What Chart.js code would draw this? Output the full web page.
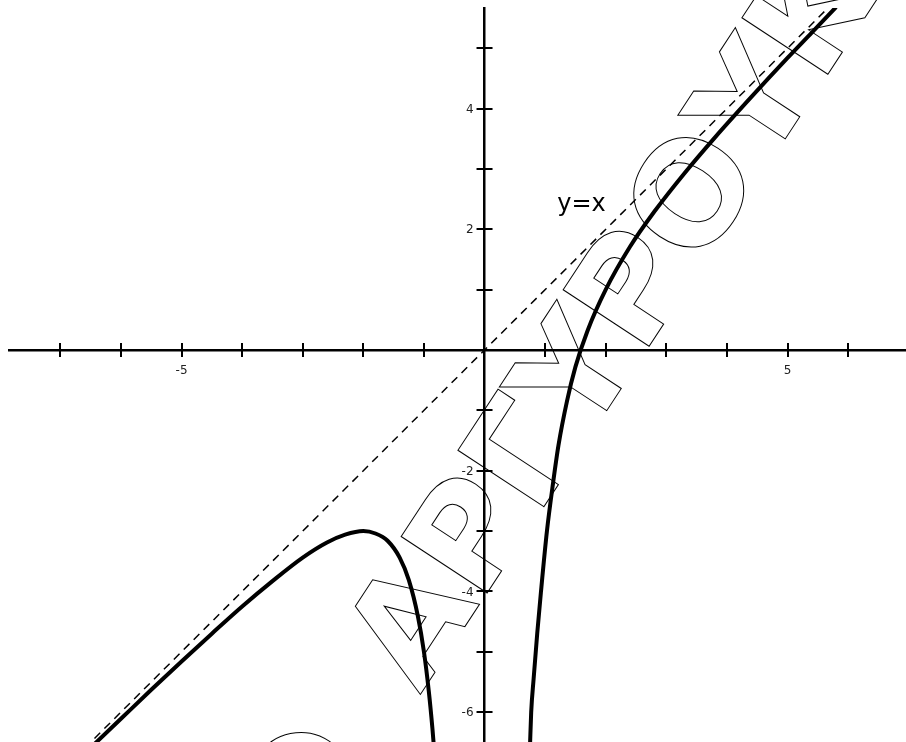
<!DOCTYPE html>
<html>
<head>
<meta charset="utf-8">
<script src="https://cdn.jsdelivr.net/npm/chart.js@4/dist/chart.umd.min.js"></script>
<style>
  html, body { margin: 0; padding: 0; background: #fff; }
  #wrap { width: 906px; height: 742px; }
</style>
</head>
<body>
<div id="wrap"><canvas id="plot"></canvas></div>
<script>
// values
const leftBranchX = [-6.5, -6.0, -5.5, -5.0, -4.5, -4.0, -3.5, -3.0, -2.6, -2.3, -2.0, -1.8, -1.6, -1.4, -1.25, -1.1, -1.0, -0.92, -0.86, -0.83];
const leftBranchY = [-6.59, -6.11, -5.63, -5.16, -4.70, -4.25, -3.83, -3.44, -3.19, -3.06, -3.00, -3.04, -3.16, -3.44, -3.81, -4.41, -5.00, -5.65, -6.27, -6.64];
const rightBranchX = [0.75, 0.77, 0.81, 0.87, 0.93, 1.03, 1.13, 1.22, 1.36, 1.5, 1.7, 2.0, 2.4, 2.8, 3.3, 3.8, 4.4, 5.0, 5.4, 5.79];
const rightBranchY = [-6.57, -6.0, -5.45, -4.69, -4.02, -3.00, -2.21, -1.58, -0.85, -0.28, 0.32, 1.00, 1.71, 2.29, 2.93, 3.52, 4.19, 4.84, 5.26, 5.67];
const asymptoteX = [-6.6, 5.67];
const asymptoteY = [-6.6, 5.67];

const xTickLabels = [-5, 5];
const yTickLabels = [4, 2, -2, -4, -6];
const xRange = [-7.847, 6.955];
const yRange = [-6.495, 5.667];

const asymptoteText = 'y=x';
const watermarkMark = '\u00A9';
const watermarkText = '\u0391\u03A1\u0393\u03A5\u03A1\u039F\u03A5\u039A\u0397';

const toPoints = (xs, ys) => xs.map((x, i) => ({x: x, y: ys[i]}));

const axisDecor = {
  id: 'axisDecor',
  beforeDraw(chart) {
    const ctx = chart.ctx;
    ctx.save();
    ctx.fillStyle = '#fff';
    ctx.fillRect(0, 0, chart.width, chart.height);
    ctx.restore();
  },
  beforeDatasetsDraw(chart) {
    // outlined watermark across the plot
    const ctx = chart.ctx;
    ctx.save();
    ctx.translate(420, 695);
    ctx.rotate(-56.7 * Math.PI / 180);
    ctx.font = 'bold 141px "DejaVu Sans"';
    ctx.textAlign = 'left';
    ctx.textBaseline = 'alphabetic';
    ctx.strokeStyle = '#000';
    ctx.lineWidth = 1;
    ctx.strokeText(watermarkMark, -210, 0);
    ctx.strokeText(watermarkText, 0, 0);
    ctx.restore();
  },
  afterDatasetsDraw(chart) {
    const ctx = chart.ctx;
    const xs = chart.scales.x, ys = chart.scales.y;
    const x0 = xs.getPixelForValue(0), y0 = ys.getPixelForValue(0);
    ctx.save();
    ctx.strokeStyle = '#000';
    ctx.lineWidth = 2;
    ctx.beginPath();
    xs.ticks.forEach(t => {
      if (t.value === 0) return;
      const px = Math.round(xs.getPixelForValue(t.value));
      ctx.moveTo(px, y0 - 7);
      ctx.lineTo(px, y0 + 7);
    });
    ys.ticks.forEach(t => {
      if (t.value === 0) return;
      const py = Math.round(ys.getPixelForValue(t.value));
      ctx.moveTo(x0 - 8, py);
      ctx.lineTo(x0 + 8, py);
    });
    ctx.stroke();

    ctx.fillStyle = '#222';
    ctx.font = '12px "DejaVu Sans"';
    ctx.textBaseline = 'middle';
    ctx.textAlign = 'center';
    xTickLabels.forEach(v => ctx.fillText(String(v), xs.getPixelForValue(v), y0 + 21));
    ctx.textAlign = 'right';
    yTickLabels.forEach(v => ctx.fillText(String(v), x0 - 11, ys.getPixelForValue(v) + 1));

    ctx.fillStyle = '#000';
    ctx.font = '24px "DejaVu Sans"';
    ctx.textAlign = 'left';
    ctx.textBaseline = 'alphabetic';
    ctx.fillText(asymptoteText, xs.getPixelForValue(1.2), ys.getPixelForValue(2.3));
    ctx.restore();
  }
};

new Chart(document.getElementById('plot'), {
  type: 'scatter',
  data: {
    datasets: [
      {
        label: 'left',
        data: toPoints(leftBranchX, leftBranchY),
        showLine: true,
        borderColor: '#000',
        borderWidth: 4,
        borderCapStyle: 'round',
        pointRadius: 0,
        cubicInterpolationMode: 'monotone'
      },
      {
        label: 'right',
        data: toPoints(rightBranchX, rightBranchY),
        showLine: true,
        borderColor: '#000',
        borderWidth: 4,
        borderCapStyle: 'round',
        pointRadius: 0,
        cubicInterpolationMode: 'monotone'
      },
      {
        label: 'y=x',
        data: toPoints(asymptoteX, asymptoteY),
        showLine: true,
        borderColor: '#000',
        borderWidth: 1.5,
        borderDash: [8, 6],
        pointRadius: 0
      }
    ]
  },
  options: {
    responsive: true,
    maintainAspectRatio: false,
    animation: false,
    events: [],
    layout: { padding: { left: 9, top: 8, right: 0, bottom: 0 } },
    plugins: { legend: { display: false }, tooltip: { enabled: false } },
    scales: {
      x: {
        type: 'linear',
        min: xRange[0],
        max: xRange[1],
        position: { y: 0 },
        grid: { display: false },
        border: { display: true, color: '#000', width: 2.5 },
        ticks: { display: false, stepSize: 1, includeBounds: false, autoSkip: false }
      },
      y: {
        type: 'linear',
        min: yRange[0],
        max: yRange[1],
        position: { x: 0 },
        grid: { display: false },
        border: { display: true, color: '#000', width: 2.5 },
        ticks: { display: false, stepSize: 1, includeBounds: false, autoSkip: false }
      }
    }
  },
  plugins: [axisDecor]
});
</script>
</body>
</html>
